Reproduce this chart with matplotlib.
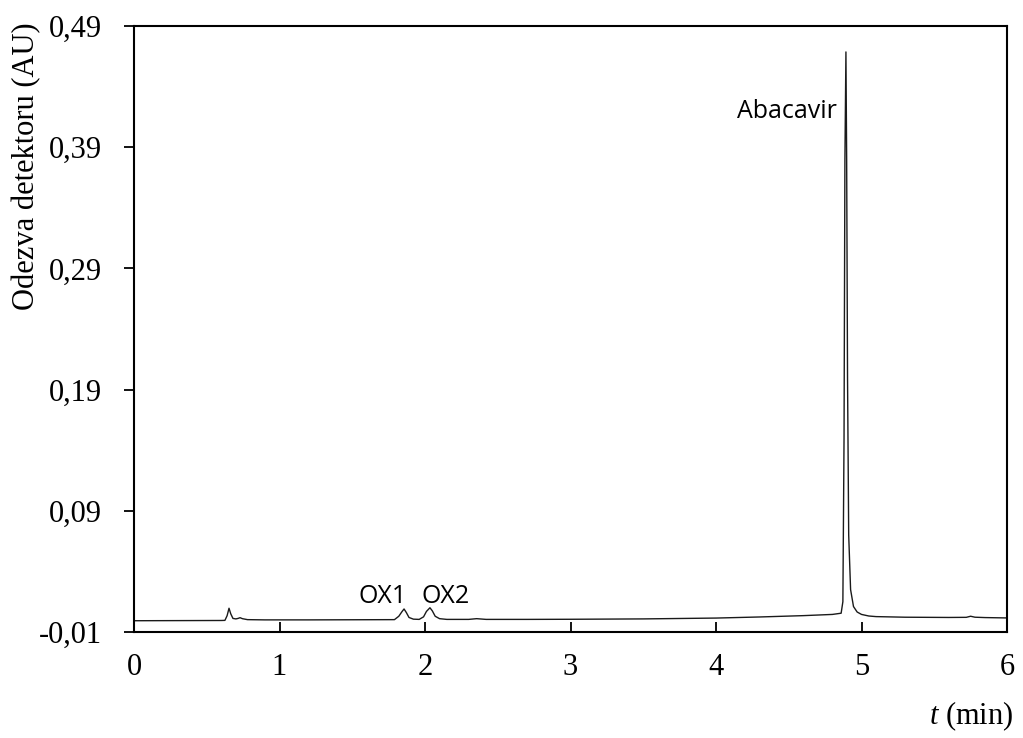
import matplotlib
matplotlib.use("Agg")
import matplotlib.pyplot as plt

# Chromatogram trace (time in min, response in AU)
time_min = [0.00, 0.30, 0.60, 0.625, 0.640, 0.653, 0.665, 0.680, 0.700, 0.715,
            0.729, 0.745, 0.780, 0.900, 1.200, 1.500, 1.790, 1.820, 1.840,
            1.856, 1.872, 1.890, 1.920, 1.960, 1.990, 2.010, 2.034, 2.050,
            2.070, 2.100, 2.150, 2.300, 2.355, 2.420, 2.700, 3.000, 3.500,
            4.000, 4.300, 4.600, 4.800, 4.860, 4.872, 4.880, 4.886, 4.893,
            4.898, 4.904, 4.912, 4.925, 4.945, 4.970, 5.000, 5.050, 5.100,
            5.300, 5.600, 5.720, 5.750, 5.780, 5.850, 6.000]
response_au = [-0.0007, -0.0006, -0.0005, -0.0004, 0.0035, 0.0096, 0.0050, 0.0012,
               0.0008, 0.0012, 0.0018, 0.0010, 0.0002, 0.0000, 0.0000, 0.0001,
               0.0002, 0.0030, 0.0065, 0.0090, 0.0060, 0.0020, 0.0006, 0.0004,
               0.0025, 0.0070, 0.0100, 0.0075, 0.0030, 0.0010, 0.0004, 0.0004,
               0.0010, 0.0004, 0.0004, 0.0005, 0.0008, 0.0015, 0.0024, 0.0035,
               0.0045, 0.0055, 0.0150, 0.1500, 0.3800, 0.4686, 0.3800, 0.2000,
               0.0700, 0.0250, 0.0110, 0.0065, 0.0045, 0.0032, 0.0027, 0.0022,
               0.0020, 0.0021, 0.0030, 0.0022, 0.0019, 0.0016]

x_ticks = [0, 1, 2, 3, 4, 5, 6]
y_ticks = [-0.01, 0.09, 0.19, 0.29, 0.39, 0.49]
y_tick_labels = ["-0,01", "0,09", "0,19", "0,29", "0,39", "0,49"]

peak_labels = ["OX1", "OX2", "Abacavir"]
peak_label_x = [1.708, 2.141, 4.832]
peak_label_y = [0.0139, 0.0139, 0.414]
peak_label_ha = ["center", "center", "right"]

plt.rcParams["mathtext.fontset"] = "custom"
plt.rcParams["mathtext.it"] = "Liberation Serif:italic"
plt.rcParams["mathtext.rm"] = "Liberation Serif"

serif = "Liberation Serif"
tick_fs = 22

fig = plt.figure(figsize=(10.23, 7.38), dpi=100)
ax = fig.add_axes([134 / 1023, 1 - 632 / 738, (1007 - 134) / 1023, (632 - 26) / 738])

ax.plot(time_min, response_au, color="#1a1a1a", lw=1.0)

ax.set_xlim(0, 6)
ax.set_ylim(-0.01, 0.49)
ax.set_xticks(x_ticks)
ax.set_xticklabels([str(v) for v in x_ticks], fontfamily=serif, fontsize=tick_fs)
ax.set_yticks(y_ticks)
ax.set_yticklabels(y_tick_labels, fontfamily=serif, fontsize=tick_fs)

ax.tick_params(axis="x", direction="in", length=7, width=1.3, pad=15)
ax.tick_params(axis="y", direction="out", length=7, width=1.3, pad=16)
for sp in ax.spines.values():
    sp.set_linewidth(1.5)
    sp.set_color("black")

for lab, xx, yy, ha in zip(peak_labels, peak_label_x, peak_label_y, peak_label_ha):
    ax.text(xx, yy, lab, ha=ha, va="baseline", fontfamily="Open Sans",
            fontsize=18, color="black")

fig.text(27 / 1023, 1 - 166 / 738, "Odezva detektoru (AU)", rotation=90,
         ha="center", va="center", fontfamily=serif, fontsize=tick_fs)
fig.text(1013 / 1023, 1 - 716 / 738, r"$t$ (min)", ha="right", va="center",
         fontfamily=serif, fontsize=tick_fs)

fig.savefig("out.png", dpi=100)
